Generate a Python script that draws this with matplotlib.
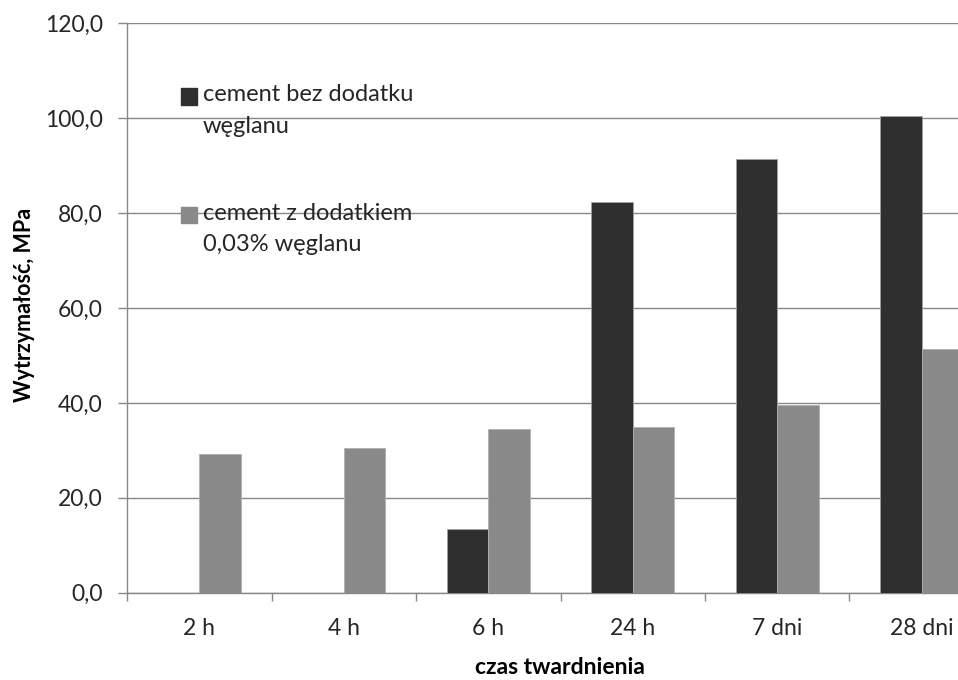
import matplotlib
matplotlib.use("Agg")
import matplotlib.pyplot as plt
from matplotlib.patches import Patch
from matplotlib.ticker import FixedLocator, FuncFormatter
import numpy as np

# Compressive strength of cement over hardening time
categories = ["2 h", "4 h", "6 h", "24 h", "7 dni", "28 dni"]
no_additive = [0.0, 0.0, 13.4, 82.3, 91.5, 100.5]
with_carbonate = [29.2, 30.6, 34.4, 35.0, 39.6, 51.3]
series_labels = ["cement bez dodatku\nwęglanu", "cement z dodatkiem\n0,03% węglanu"]
y_ticks = [0, 20, 40, 60, 80, 100, 120]

DARK = "#2f2f2f"
GREY = "#898989"
AXIS_GREY = "#888888"
TEXT = "#262626"

plt.rcParams["font.family"] = ["Lato", "DejaVu Sans"]

W, H = 958, 680
fig = plt.figure(figsize=(W / 100, H / 100), dpi=100)

# plot area in pixels: left 127, right 994 (runs past the right edge), top 23, bottom 593
left_px, right_px, top_px, bottom_px = 127, 994, 23.3, 592.7
ax = fig.add_axes([left_px / W, 1 - bottom_px / H,
                   (right_px - left_px) / W, (bottom_px - top_px) / H])

x = np.arange(len(categories))
bw = 0.286
ax.bar(x - bw / 2, no_additive, width=bw, color=DARK, edgecolor="#a0a0a0",
       linewidth=0.6, zorder=3)
ax.bar(x + bw / 2, with_carbonate, width=bw, color=GREY, edgecolor="#b0b0b0",
       linewidth=0.6, zorder=3)

ax.set_xlim(-0.5, len(categories) - 0.5)
ax.set_ylim(0, 120)

# gridlines and spines
ax.yaxis.set_major_locator(FixedLocator(y_ticks))
ax.yaxis.set_major_formatter(FuncFormatter(lambda v, p: f"{v:.1f}".replace(".", ",")))
ax.grid(axis="y", color=AXIS_GREY, linewidth=1.0, zorder=0)
ax.set_axisbelow(True)
for s in ["top", "right"]:
    ax.spines[s].set_visible(False)
for s in ["left", "bottom"]:
    ax.spines[s].set_color(AXIS_GREY)
    ax.spines[s].set_linewidth(1.0)

ax.tick_params(axis="y", direction="out", length=6.5, width=1.0, color=AXIS_GREY,
               pad=11, labelsize=16.5, labelcolor=TEXT)

ax.set_xticks(x)
ax.set_xticklabels(categories)
ax.set_xticks(np.arange(len(categories) + 1) - 0.5, minor=True)
ax.tick_params(axis="x", which="major", length=0, pad=18, labelsize=16.5,
               labelcolor=TEXT)
ax.tick_params(axis="x", which="minor", direction="out", length=6, width=1.0,
               color=AXIS_GREY)

ax.set_ylabel("Wytrzymałość, MPa", fontsize=15.5, fontweight="bold", color="black")
ax.yaxis.set_label_coords((24 - left_px) / (right_px - left_px),
                          (bottom_px - 305) / (bottom_px - top_px))
ax.yaxis.label.set_ha("center")
ax.yaxis.label.set_va("center")
ax.set_xlabel("czas twardnienia", fontsize=16.5, fontweight="bold", color="black")
ax.xaxis.set_label_coords((560 - left_px) / (right_px - left_px),
                          -(667 - bottom_px) / (bottom_px - top_px))
ax.xaxis.label.set_va("center")

handles = [Patch(facecolor=DARK, edgecolor=DARK), Patch(facecolor=GREY, edgecolor=GREY)]
leg = ax.legend(handles, series_labels, loc="upper left",
                bbox_to_anchor=(181 / W, 1 - 84 / H), bbox_transform=fig.transFigure,
                frameon=False, fontsize=17, labelspacing=2.8, handlelength=0.68,
                handleheight=0.68, handletextpad=0.25, borderpad=0, borderaxespad=0)
for t in leg.get_texts():
    t.set_color(TEXT)
    t.set_linespacing(1.62)
# put each legend square beside the first line of its label
for h in leg.legend_handles:
    h.set_y(h.get_y() + 10.0)

fig.savefig("out.png", dpi=100, facecolor="white")
